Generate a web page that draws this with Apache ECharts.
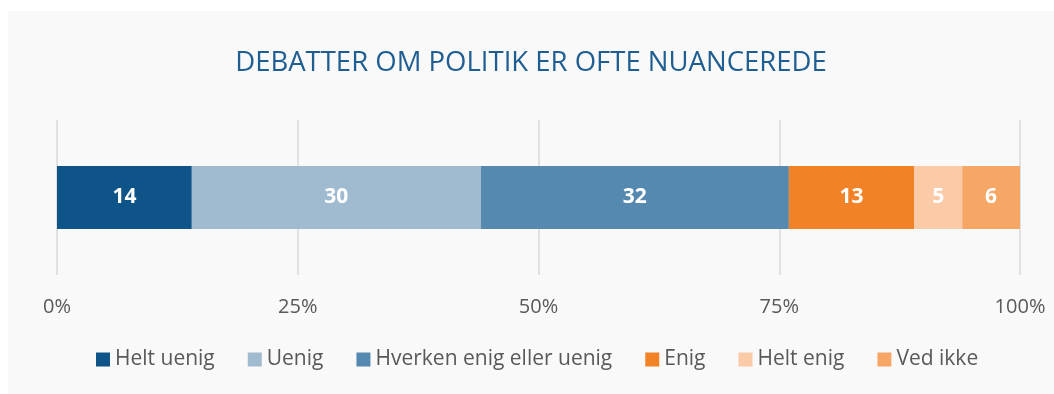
<!DOCTYPE html>
<html>
<head>
<meta charset="utf-8">
<script src="https://cdn.jsdelivr.net/npm/echarts@6/dist/echarts.min.js"></script>
<style>
  html, body { margin: 0; padding: 0; background: #ffffff; }
  #chart { position: absolute; left: 8px; top: 11px; width: 1046px; height: 383px; }
</style>
</head>
<body>
<div id="chart"></div>
<script>
// Survey answers, share of respondents in percent
const question = ['DEBATTER OM POLITIK ER OFTE NUANCEREDE'];
const answerNames = ['Helt uenig', 'Uenig', 'Hverken enig eller uenig', 'Enig', 'Helt enig', 'Ved ikke'];
const answerValues = [14, 30, 32, 13, 5, 6];
const answerColors = ['#0f5488', '#a0bbd0', '#5689b0', '#f28228', '#fbcaa7', '#f6a766'];
const tickValues = [0, 25, 50, 75, 100];

const chart = echarts.init(document.getElementById('chart'), null, { renderer: 'canvas' });

const series = answerNames.map((name, i) => ({
  name: name,
  type: 'bar',
  stack: 'total',
  barWidth: 63,
  data: [answerValues[i]],
  itemStyle: { color: answerColors[i] },
  label: {
    show: true,
    position: 'inside',
    color: '#ffffff',
    fontFamily: 'Open Sans',
    fontWeight: 'bold',
    fontSize: 21,
    formatter: p => p.value
  },
  emphasis: { disabled: true }
}));

chart.setOption({
  backgroundColor: '#f9f9f9',
  animation: false,
  title: {
    text: question[0],
    left: 'center',
    top: 33,
    textStyle: {
      color: '#1f5e93',
      fontFamily: 'Open Sans',
      fontWeight: 'normal',
      fontSize: 27.5
    }
  },
  legend: {
    data: answerNames,
    bottom: 19,
    left: 83,
    icon: 'rect',
    itemWidth: 14,
    itemHeight: 14,
    itemGap: 33,
    textStyle: {
      color: '#595959',
      fontFamily: 'Open Sans',
      fontSize: 21
    }
  },
  grid: {
    left: 49,
    right: 34,
    top: 109,
    height: 155,
    containLabel: false
  },
  xAxis: {
    type: 'value',
    min: tickValues[0],
    max: tickValues[tickValues.length - 1],
    interval: 25,
    axisLine: { show: false },
    axisTick: { show: false },
    splitLine: { show: true, lineStyle: { color: '#d9d9d9', width: 1.5 } },
    axisLabel: {
      color: '#595959',
      fontFamily: 'Open Sans',
      fontSize: 20,
      margin: 22,
      formatter: v => v + '%'
    }
  },
  yAxis: {
    type: 'category',
    data: question,
    show: false
  },
  series: series
});
</script>
</body>
</html>
